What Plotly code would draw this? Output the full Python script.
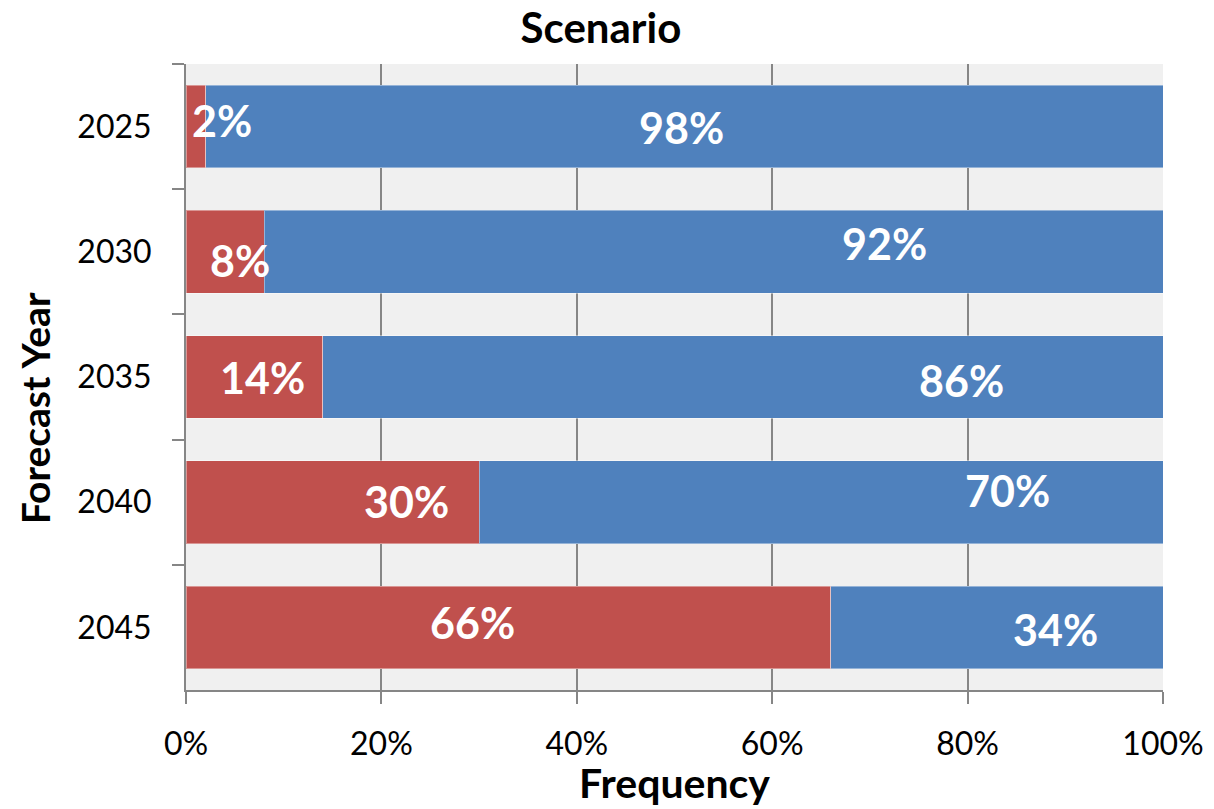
import plotly.graph_objects as go

years = ["2025", "2030", "2035", "2040", "2045"]
red_values = [2, 8, 14, 30, 66]
blue_values = [98, 92, 86, 70, 34]
red_labels = ["2%", "8%", "14%", "30%", "66%"]
blue_labels = ["98%", "92%", "86%", "70%", "34%"]
x_tickvals = [0, 20, 40, 60, 80, 100]
x_ticktext = ["0%", "20%", "40%", "60%", "80%", "100%"]

# where the data labels sit along the bars (moved by hand in the original)
red_label_x = [3.7, 5.5, 7.8, 22.6, 29.3]
blue_label_x = [50.7, 71.5, 79.4, 84.1, 89.0]
red_label_shift = [6, -9, 0, 1, 5]
blue_label_shift = [-1, 8, -3, 12, -2]

RED = "#C0504D"
BLUE = "#4F81BD"
FONT = "Lato"

W, H = 1214, 809

fig = go.Figure()
fig.add_trace(go.Bar(y=years, x=red_values, orientation="h", marker_color=RED,
                     marker_line=dict(color="rgba(255,255,255,0.4)", width=1),
                     showlegend=False, hoverinfo="skip"))
fig.add_trace(go.Bar(y=years, x=blue_values, orientation="h", marker_color=BLUE,
                     marker_line=dict(color="rgba(255,255,255,0.4)", width=1),
                     showlegend=False, hoverinfo="skip"))

# annotations on a category axis take the category's serial index
for i, (lx, lt, sh) in enumerate(zip(red_label_x, red_labels, red_label_shift)):
    fig.add_annotation(x=lx, y=i, text=lt, showarrow=False, yshift=sh,
                       font=dict(family=FONT, size=43, color="white", weight="bold"))
for i, (lx, lt, sh) in enumerate(zip(blue_label_x, blue_labels, blue_label_shift)):
    fig.add_annotation(x=lx, y=i, text=lt, showarrow=False, yshift=sh,
                       font=dict(family=FONT, size=43, color="white", weight="bold"))

fig.add_annotation(xref="paper", yref="paper", x=0.5, y=-0.147, text="Frequency",
                   showarrow=False, yanchor="middle",
                   font=dict(family=FONT, size=41, color="black", weight="bold"))
fig.add_annotation(xref="paper", yref="paper", x=-0.1546, y=0.45, text="Forecast Year",
                   showarrow=False, textangle=-90, xanchor="center", yanchor="middle",
                   font=dict(family=FONT, size=39, color="black", weight="bold"))

fig.update_layout(
    barmode="stack",
    bargap=0.34,
    width=W, height=H,
    margin=dict(l=186, r=51, t=64, b=119, autoexpand=False),
    paper_bgcolor="white",
    plot_bgcolor="#F0F0F0",
    title=dict(text="Scenario", x=0.495, xref="container", y=1 - 28 / H,
               yref="container", yanchor="middle", xanchor="center",
               font=dict(family=FONT, size=42, color="black", weight="bold")),
    xaxis=dict(range=[0, 100], tickvals=x_tickvals, ticktext=x_ticktext,
               showgrid=True, gridcolor="#868686", gridwidth=2,
               zeroline=False, showline=True, linecolor="#868686", linewidth=2,
               ticks="outside", ticklen=12, tickcolor="#868686", tickwidth=2,
               ticklabelstandoff=13, automargin=False,
               tickfont=dict(family=FONT, size=32, color="black")),
    yaxis=dict(type="category", categoryorder="array", categoryarray=years,
               range=[4.5, -0.5], showgrid=False, zeroline=False,
               showline=True, linecolor="#868686", linewidth=2,
               ticks="outside", tickson="boundaries", ticklen=12,
               tickcolor="#868686", tickwidth=2, ticklabelstandoff=26,
               automargin=False,
               tickfont=dict(family=FONT, size=32, color="black")),
)

fig.write_html("out.html",
               config={"displayModeBar": False},
               post_script="document.body.style.margin='0';"
                           "document.body.style.overflow='hidden';")
